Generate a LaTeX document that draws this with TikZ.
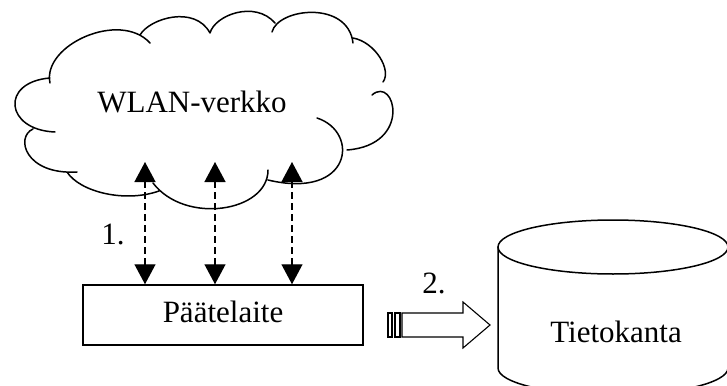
\documentclass[tikz,border=0pt]{standalone}
\usepackage{fontspec}
\setmainfont{Liberation Serif}
\usetikzlibrary{arrows.meta}
\begin{document}
\begin{tikzpicture}[x=1pt,y=-1pt,
  outline/.style={line width=1.5pt, line cap=round},
  thin outline/.style={line width=1.1pt, line join=miter},
  caption/.style={font=\fontsize{31}{37}\selectfont, anchor=base, inner sep=0pt},
  link/.style={line width=1.4pt, dash pattern=on 7pt off 4pt,
    {Triangle[length=20pt,width=21pt]}-{Triangle[length=20pt,width=21pt]}},
]
\useasboundingbox (0,0) rectangle (727,385);

% cloud: overlapping open arcs
\draw[outline]
  (50,83)   .. controls (42,45)  and (120,10)  .. (150,43)
  (140,35)  .. controls (150,18) and (195,5)   .. (210,33)
  (210,33)  .. controls (215,15) and (255,0)   .. (275,23)
  (272,32)  .. controls (278,8)  and (348,0)   .. (353,43)
  (353,38)  .. controls (375,42) and (392,70)  .. (383,82)
  (372,95)  .. controls (395,75) and (413,145) .. (347,150)
  (317,118) .. controls (360,132) and (352,200) .. (268,180)
  (268,170) .. controls (268,212) and (185,225) .. (153,183)
  (67,172)  .. controls (80,192) and (125,203) .. (159,191)
  (33,129)  .. controls (15,137) and (25,175)  .. (77,172)
  (50,78)   .. controls (0,82)   and (5,130)   .. (55,132);
\node[caption] (net) at (192,113) {WLAN-verkko};

% terminal
\node[draw, outline, minimum width=280pt, minimum height=60pt, inner sep=0pt] (term) at (223,315) {};
\node[caption] (termtext) at (223,322) {Päätelaite};

% radio links
\coordinate (up1) at (145,162);
\coordinate (up2) at (215,162);
\coordinate (up3) at (292,162);
\draw[link] (term.north -| up1) -- (up1);
\draw[link] (term.north -| up2) -- (up2);
\draw[link] (term.north -| up3) -- (up3);
\node[caption] (step1) at (113,244) {1.};

% transfer arrow
\draw[thin outline] (388,313) rectangle (392,337);
\draw[thin outline] (395,313) rectangle (400,337);
\draw[thin outline] (402,313) -- (463,313) -- (463,302) -- (490,325)
  -- (463,348) -- (463,337) -- (402,337) -- cycle;
\node[caption] (step2) at (434,293) {2.};

% database
\begin{scope}
  \clip (0,0) rectangle (727,385);
  \draw[outline] (613,247) ellipse [x radius=115, y radius=27];
  \draw[outline] (498,247) -- (498,368) arc[start angle=180, end angle=0, x radius=115, y radius=27] -- (728,247);
\end{scope}
\node[caption] (db) at (616,342) {Tietokanta};
\end{tikzpicture}
\end{document}
